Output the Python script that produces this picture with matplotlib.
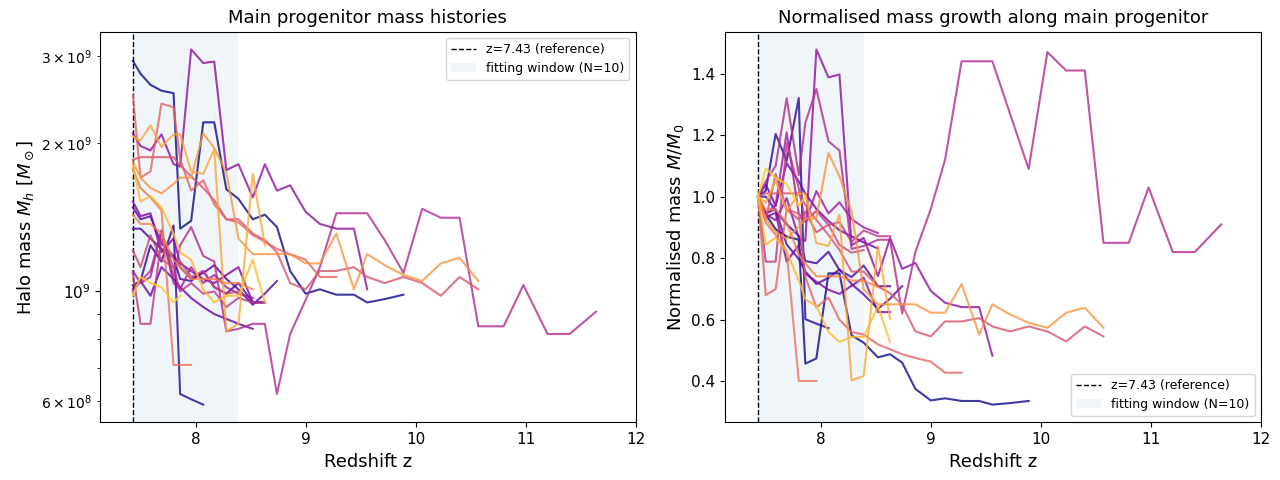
import numpy as np
import matplotlib
matplotlib.use("Agg")
import matplotlib.pyplot as plt

# snapshot redshifts along the main branch
z_snap = [7.43, 7.50, 7.59, 7.69, 7.80, 7.86, 7.96, 8.07, 8.17, 8.28, 8.39,
          8.52, 8.63, 8.74, 8.86, 9.00, 9.13, 9.28, 9.44, 9.56, 9.72, 9.89,
          10.06, 10.23, 10.40, 10.57, 10.80, 10.98, 11.20, 11.40, 11.64]

n_fit = 10

# main progenitor masses [1e9 Msun], one list per halo, starting at z_snap[0]
h00 = [2.93, 2.76, 2.62, 2.55, 2.52, 1.34, 1.39, 2.20, 2.20, 1.61, 1.54, 1.40, 1.43, 1.35, 1.10,
       0.99, 1.01, 0.985, 0.985, 0.95, 0.965, 0.985]
h01 = [1.03, 1.05, 1.24, 1.15, 1.36, 0.62, 0.605, 0.59]
h02 = [1.34, 1.34, 1.28, 1.22, 1.17, 1.06, 1.05, 1.10, 1.02, 0.99, 1.04, 0.95, 0.95]
h03 = [1.48, 1.40, 1.42, 1.25, 1.18, 1.12, 1.06, 1.09, 1.13, 1.06, 1.01, 0.94, 0.99, 1.05]
h04 = [1.01, 1.05, 0.98, 1.12, 1.06, 1.02, 0.97, 0.93, 0.90, 0.88, 0.86, 0.84]
h05 = [1.52, 1.42, 1.44, 1.20, 1.28, 1.14, 1.10, 1.06, 1.04, 1.08, 1.12, 0.95, 0.95]
h06 = [2.09, 1.97, 1.93, 2.08, 1.81, 1.79, 3.09, 2.90, 2.92, 1.76, 1.81, 1.55, 1.81, 1.60, 1.64,
       1.45, 1.37, 1.34, 1.34, 1.01]
h07 = [1.10, 1.04, 1.07, 1.33, 1.04, 1.01, 1.12, 1.04, 1.08, 1.02, 0.99, 0.97]
h08 = [1.00, 1.05, 1.10, 1.32, 1.07, 1.24, 1.35, 1.18, 1.15, 0.83, 0.84, 0.86, 0.86, 0.62, 0.82,
       0.96, 1.12, 1.44, 1.44, 1.44, 1.27, 1.09, 1.47, 1.41, 1.41, 0.85, 0.85, 1.03, 0.82, 0.82, 0.91]
h09 = [1.09, 0.86, 0.86, 1.28, 1.12, 1.00, 1.04, 0.99, 1.00, 0.93, 0.97, 0.95, 0.95]
h10 = [1.21, 1.12, 1.30, 1.16, 1.12, 1.15, 1.07, 1.10, 1.02, 0.99, 1.00]
h11 = [1.85, 1.87, 1.87, 1.87, 1.87, 1.80, 1.71, 1.62, 1.53, 1.40, 1.40, 1.31, 1.27, 1.20, 1.04,
       1.01, 1.10, 1.10, 1.12, 1.07, 1.04, 1.07, 1.04, 0.98, 1.07, 1.01]
h12 = [2.50, 1.70, 1.75, 2.40, 2.36, 1.85, 1.60, 1.68, 1.50, 1.40, 1.38, 1.30, 1.26, 1.22, 1.19,
       1.16, 1.07, 1.07]
h13 = [1.77, 1.62, 1.55, 1.46, 0.71, 0.71, 0.71]
h14 = [1.43, 1.37, 1.37, 1.31, 1.16, 1.12, 1.06, 1.06, 1.06, 1.04, 1.04, 1.01]
h15 = [1.83, 1.70, 1.62, 1.58, 1.65, 1.70, 1.70, 2.09, 1.95, 1.74, 1.28, 1.19, 1.19, 1.19, 1.19,
       1.14, 1.14, 1.31, 1.01, 1.19, 1.13, 1.08, 1.05, 1.14, 1.17, 1.05]
h16 = [2.06, 2.02, 2.17, 1.96, 2.08, 2.08, 1.75, 1.73, 1.94, 0.83, 0.86, 1.73, 1.24]
h17 = [1.80, 1.52, 1.56, 1.48, 1.31, 1.20, 1.16, 1.01, 0.95, 0.98, 0.98, 1.16, 0.95]
h18 = [0.98, 1.07, 1.04, 1.02, 0.95, 0.98]

halos = [h00, h01, h02, h03, h04, h05, h06, h07, h08, h09,
         h10, h11, h12, h13, h14, h15, h16, h17, h18]

colors = plt.cm.plasma(np.linspace(0, 0.9, len(halos)))
z_ref = z_snap[0]

fig, (ax1, ax2) = plt.subplots(1, 2, figsize=(12.8, 4.8), dpi=100)

for ax in (ax1, ax2):
    ax.axvline(z_ref, color="k", ls="--", lw=1, label=f"z={z_ref:.2f} (reference)")
    ax.axvspan(z_snap[0], z_snap[n_fit], color="steelblue", alpha=0.08, lw=0,
               label=f"fitting window (N={n_fit})")

for m, c in zip(halos, colors):
    z = np.array(z_snap[:len(m)])
    m = np.array(m) * 1e9
    ax1.plot(z, m, color=c, alpha=0.8, lw=1.5)
    ax2.plot(z, m / m[0], color=c, alpha=0.8, lw=1.5)

ax1.set_yscale("log")
ax1.set_title("Main progenitor mass histories", fontsize=13)
ax1.set_ylabel(r"Halo mass $M_h$ [$M_\odot$]", fontsize=13)
ax1.legend(loc="upper right", fontsize=9)

ax2.set_title("Normalised mass growth along main progenitor", fontsize=13)
ax2.set_ylabel(r"Normalised mass $M/M_0$", fontsize=13)
ax2.legend(loc="lower right", fontsize=9)

for ax in (ax1, ax2):
    ax.set_xlim(7.13, 12.0)
    ax.set_xlabel("Redshift z", fontsize=13)
    ax.tick_params(labelsize=11)

plt.subplots_adjust(left=0.078, right=0.985, bottom=0.12, top=0.934, wspace=0.167)
plt.savefig("out.png", dpi=100)
